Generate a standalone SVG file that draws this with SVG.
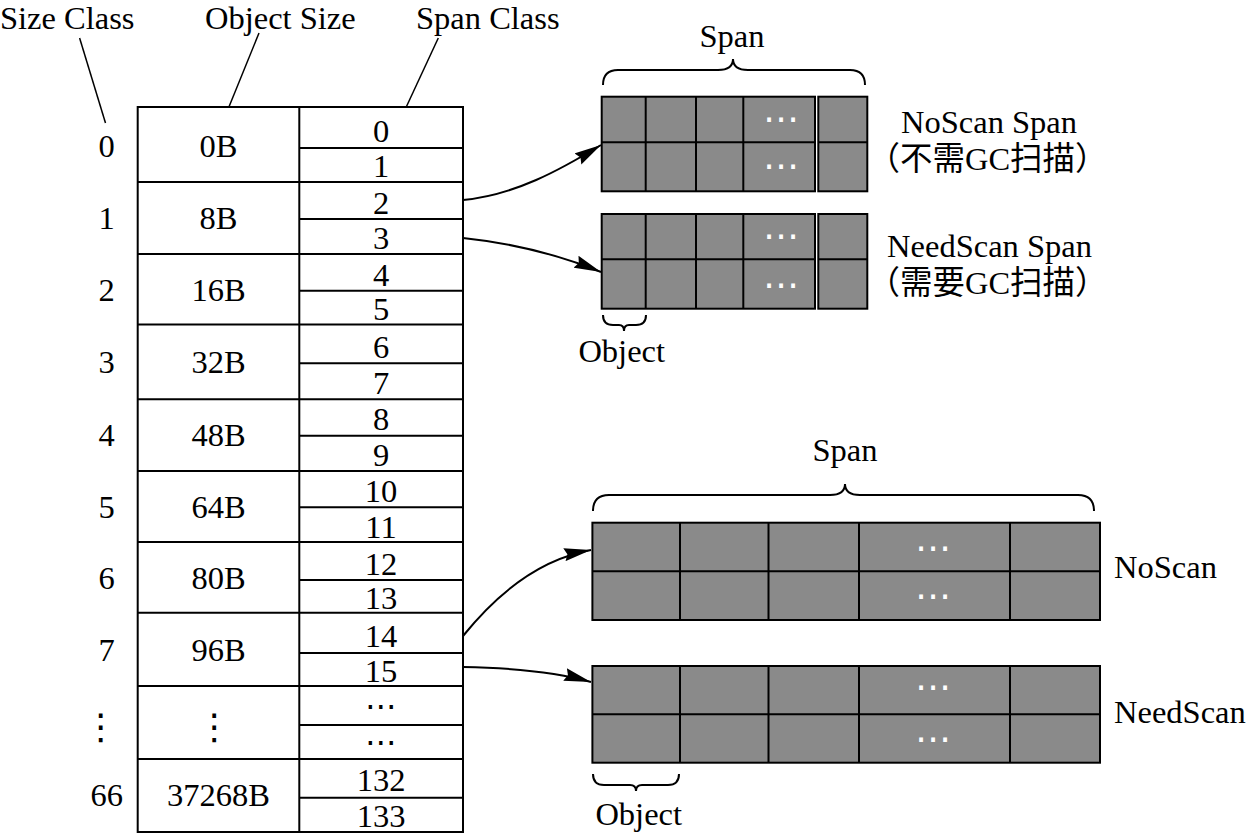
<svg xmlns="http://www.w3.org/2000/svg" width="1249" height="833" viewBox="0 0 1249 833">
<style>
  text { font-family: "Liberation Serif", "Times New Roman", serif; font-size: 32.5px; fill: #000; }
  .c { text-anchor: middle; }
  .cjk { font-family: "Liberation Serif", "Noto Sans CJK SC", serif; }
  .dots { font-family: "DejaVu Sans", sans-serif; font-size: 36px; text-anchor: middle; }
  .tdots { font-family: "DejaVu Sans", sans-serif; font-size: 32px; text-anchor: middle; }
  .wd { fill: #fff; }
  .tbl { fill: #fff; stroke: #000; stroke-width: 2; }
  .ln { stroke: #000; stroke-width: 2; fill: none; }
  .thin { stroke: #000; stroke-width: 1.5; fill: none; }
  .cell { fill: #8a8a8a; stroke: #000; stroke-width: 2; }
  .conn { stroke: #000; stroke-width: 2; fill: none; marker-end: url(#arr); }
  .brace { stroke: #000; stroke-width: 2; fill: none; }
</style>
<defs>
  <marker id="arr" markerUnits="userSpaceOnUse" markerWidth="30" markerHeight="14" refX="27" refY="7" orient="auto">
    <path d="M0,0.5 L27,7 L0,13.5 L3,7 Z" fill="#000"/>
  </marker>
</defs>

<!-- headers -->
<g id="headers">
  <text x="0" y="29">Size Class</text>
  <text x="205" y="29">Object Size</text>
  <text x="416" y="29">Span Class</text>
  <line class="thin" x1="79.6" y1="38" x2="105.5" y2="123"/>
  <line class="thin" x1="259" y1="33" x2="222" y2="124"/>
  <line class="thin" x1="438.3" y1="38" x2="398.8" y2="123"/>
</g>

<!-- table -->
<g id="table">
  <rect class="tbl" x="137.7" y="107" width="325.3" height="725"/>
  <line class="ln" x1="299.3" y1="107" x2="299.3" y2="832"/>
  <g id="row-rules">
    <line class="ln" x1="137.7" y1="182" x2="463" y2="182"/>
    <line class="ln" x1="137.7" y1="254" x2="463" y2="254"/>
    <line class="ln" x1="137.7" y1="324.5" x2="463" y2="324.5"/>
    <line class="ln" x1="137.7" y1="399.3" x2="463" y2="399.3"/>
    <line class="ln" x1="137.7" y1="471" x2="463" y2="471"/>
    <line class="ln" x1="137.7" y1="542" x2="463" y2="542"/>
    <line class="ln" x1="137.7" y1="612.7" x2="463" y2="612.7"/>
    <line class="ln" x1="137.7" y1="686" x2="463" y2="686"/>
    <line class="ln" x1="137.7" y1="759" x2="463" y2="759"/>
    <line class="ln" x1="299.3" y1="148" x2="463" y2="148"/>
    <line class="ln" x1="299.3" y1="219" x2="463" y2="219"/>
    <line class="ln" x1="299.3" y1="290.7" x2="463" y2="290.7"/>
    <line class="ln" x1="299.3" y1="363.3" x2="463" y2="363.3"/>
    <line class="ln" x1="299.3" y1="435.7" x2="463" y2="435.7"/>
    <line class="ln" x1="299.3" y1="507.3" x2="463" y2="507.3"/>
    <line class="ln" x1="299.3" y1="580" x2="463" y2="580"/>
    <line class="ln" x1="299.3" y1="653" x2="463" y2="653"/>
    <line class="ln" x1="299.3" y1="725" x2="463" y2="725"/>
    <line class="ln" x1="299.3" y1="797.7" x2="463" y2="797.7"/>
  </g>
  <g id="row-0"><text class="c" x="106.7" y="156.5">0</text><text class="c" x="218.5" y="156.5">0B</text><text class="c" x="381" y="142">0</text><text class="c" x="381" y="177">1</text></g>
  <g id="row-1"><text class="c" x="106.7" y="229">1</text><text class="c" x="218.5" y="229">8B</text><text class="c" x="381" y="213.5">2</text><text class="c" x="381" y="249">3</text></g>
  <g id="row-2"><text class="c" x="106.7" y="301">2</text><text class="c" x="218.5" y="301">16B</text><text class="c" x="381" y="285.5">4</text><text class="c" x="381" y="319.5">5</text></g>
  <g id="row-3"><text class="c" x="106.7" y="373">3</text><text class="c" x="218.5" y="373">32B</text><text class="c" x="381" y="357.5">6</text><text class="c" x="381" y="393.5">7</text></g>
  <g id="row-4"><text class="c" x="106.7" y="446">4</text><text class="c" x="218.5" y="446">48B</text><text class="c" x="381" y="430">8</text><text class="c" x="381" y="466">9</text></g>
  <g id="row-5"><text class="c" x="106.7" y="517.5">5</text><text class="c" x="218.5" y="517.5">64B</text><text class="c" x="381" y="502">10</text><text class="c" x="381" y="538">11</text></g>
  <g id="row-6"><text class="c" x="106.7" y="588.5">6</text><text class="c" x="218.5" y="588.5">80B</text><text class="c" x="381" y="575">12</text><text class="c" x="381" y="609">13</text></g>
  <g id="row-7"><text class="c" x="106.7" y="661">7</text><text class="c" x="218.5" y="661">96B</text><text class="c" x="381" y="647">14</text><text class="c" x="381" y="682">15</text></g>
  <g id="row-more"><text class="dots" x="100.7" y="739">⋮</text><text class="dots" x="214.3" y="739">⋮</text><text class="tdots" x="381" y="716.5">⋯</text><text class="tdots" x="381" y="752.5">⋯</text></g>
  <g id="row-66"><text class="c" x="106.7" y="805.5">66</text><text class="c" x="218.5" y="805.5">37268B</text><text class="c" x="381" y="791">132</text><text class="c" x="381" y="826.5">133</text></g>
</g>

<!-- connectors -->
<g id="connectors">
  <path class="conn" d="M463,200 C515,195 560,170 601,145"/>
  <path class="conn" d="M463,238 C520,244 562,256 601,272"/>
  <path class="conn" d="M463,636 C492,600 535,560 591,550"/>
  <path class="conn" d="M463,667 C520,668 560,673 591,682"/>
</g>

<!-- top spans -->
<g id="span-top-label">
  <path class="brace" d="M603,85 Q603,70 618,70 L718,70 Q733,70 733,59 Q733,70 748,70 L850,70 Q865,70 865,85"/>
  <text class="c" x="732" y="47">Span</text>
</g>
<g id="span-noscan-small">
  <rect class="cell" x="601.7" y="96.7" width="213.3" height="94.6"/>
  <rect class="cell" x="818.3" y="96.7" width="49" height="94.6"/>
  <line class="ln" x1="601.7" y1="142.3" x2="815" y2="142.3"/>
  <line class="ln" x1="818.3" y1="142.3" x2="867.3" y2="142.3"/>
  <line class="ln" x1="645.7" y1="96.7" x2="645.7" y2="191.3"/>
  <line class="ln" x1="696" y1="96.7" x2="696" y2="191.3"/>
  <line class="ln" x1="743.3" y1="96.7" x2="743.3" y2="191.3"/>
  <text class="dots wd" x="781" y="131">⋯</text>
  <text class="dots wd" x="781" y="178">⋯</text>
  <text class="c" x="989" y="133.3">NoScan Span</text>
  <text class="c cjk" x="987.5" y="170">（不需GC扫描）</text>
</g>
<g id="span-needscan-small">
  <rect class="cell" x="601.7" y="214" width="213.3" height="94.7"/>
  <rect class="cell" x="818.3" y="214" width="49" height="94.7"/>
  <line class="ln" x1="601.7" y1="259.3" x2="815" y2="259.3"/>
  <line class="ln" x1="818.3" y1="259.3" x2="867.3" y2="259.3"/>
  <line class="ln" x1="645.7" y1="214" x2="645.7" y2="308.7"/>
  <line class="ln" x1="696" y1="214" x2="696" y2="308.7"/>
  <line class="ln" x1="743.3" y1="214" x2="743.3" y2="308.7"/>
  <text class="dots wd" x="781" y="248">⋯</text>
  <text class="dots wd" x="781" y="297">⋯</text>
  <text class="c" x="989.5" y="256.7">NeedScan Span</text>
  <text class="c cjk" x="987.5" y="293.5">（需要GC扫描）</text>
  <path class="brace" d="M603,315 Q603,325 613,325 L619,325 Q624,325 624,331 Q624,325 629,325 L636,325 Q646,325 646,315"/>
  <text class="c" x="621.7" y="361.7">Object</text>
</g>

<!-- bottom spans -->
<g id="span-bottom-label">
  <path class="brace" d="M593,511 Q593,495 609,495 L830,495 Q845,495 845,484 Q845,495 860,495 L1078,495 Q1094,495 1094,511"/>
  <text class="c" x="845" y="460.7">Span</text>
</g>
<g id="span-noscan-large">
  <rect class="cell" x="592.4" y="522.7" width="507.6" height="97.3"/>
  <line class="ln" x1="592.4" y1="571.3" x2="1100" y2="571.3"/>
  <line class="ln" x1="680" y1="522.7" x2="680" y2="620"/>
  <line class="ln" x1="768.5" y1="522.7" x2="768.5" y2="620"/>
  <line class="ln" x1="859" y1="522.7" x2="859" y2="620"/>
  <line class="ln" x1="1010" y1="522.7" x2="1010" y2="620"/>
  <text class="dots wd" x="933" y="559.5">⋯</text>
  <text class="dots wd" x="933" y="608">⋯</text>
  <text x="1114" y="578">NoScan</text>
</g>
<g id="span-needscan-large">
  <rect class="cell" x="592.4" y="666" width="507.6" height="96.7"/>
  <line class="ln" x1="592.4" y1="714.3" x2="1100" y2="714.3"/>
  <line class="ln" x1="680" y1="666" x2="680" y2="762.7"/>
  <line class="ln" x1="768.5" y1="666" x2="768.5" y2="762.7"/>
  <line class="ln" x1="859" y1="666" x2="859" y2="762.7"/>
  <line class="ln" x1="1010" y1="666" x2="1010" y2="762.7"/>
  <text class="dots wd" x="933" y="699">⋯</text>
  <text class="dots wd" x="933" y="751">⋯</text>
  <text x="1114" y="722.7">NeedScan</text>
  <path class="brace" d="M593,774 Q593,785 604,785 L630,785 Q636,785 636,791 Q636,785 642,785 L668,785 Q679,785 679,774"/>
  <text class="c" x="638.7" y="825">Object</text>
</g>
</svg>
